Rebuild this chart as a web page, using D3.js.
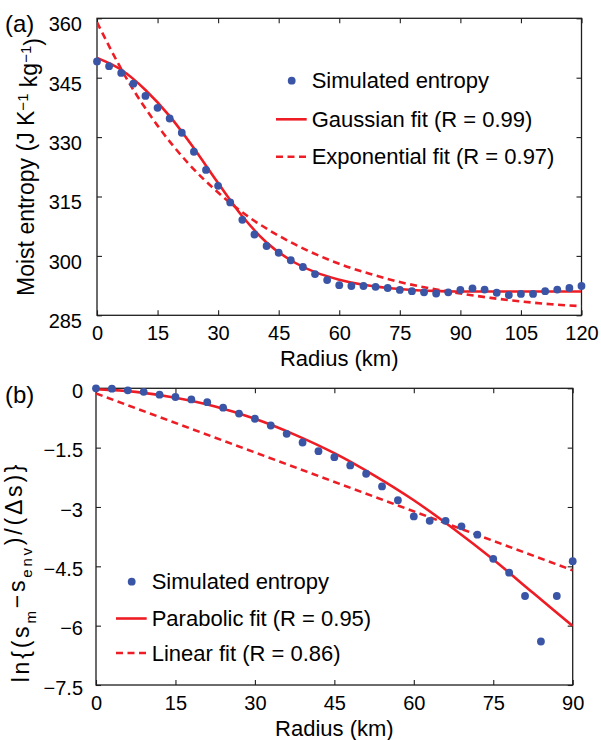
<!DOCTYPE html>
<html><head><meta charset="utf-8">
<script src="https://cdn.jsdelivr.net/npm/d3@7"></script>
<style>
body{margin:0;background:#fff}
svg text{font-family:"Liberation Sans",Arial,Helvetica,sans-serif;fill:#000}
</style></head><body>
<svg id="c" width="601" height="740"></svg>
<script>
// ---------- Panel (a) data ----------
const radiusA=[0,3,6,9,12,15,18,21,24,27,30,33,36,39,42,45,48,51,54,57,60,63,66,69,72,75,78,81,84,87,90,93,96,99,102,105,108,111,114,117,120];
const entropyA=[349.1,347.9,346.2,343.5,340.4,337.4,334.7,331.1,326.3,321.7,317.7,313.5,309.1,305.4,302.5,300.8,298.9,297.2,295.4,293.9,292.6,292.4,292.4,292.2,291.9,291.4,291.1,290.8,290.5,290.8,291.4,291.8,291.5,290.7,290.1,290.4,290.4,291.1,291.5,291.9,292.4];
const gaussRadiusA=[0,6,12,18,24,30,36,42,48,54,60,66,72,78,84,90,96,102,108,114,120];
const gaussianA=[350.0,347.0,341.9,335.3,327.2,318.4,310.0,303.4,298.9,295.9,294.0,292.7,291.9,291.4,291.15,291.0,291.0,291.0,291.0,291.0,291.0];
const expRadiusA=[0,7.5,15,22.5,30,37.5,45,52.5,60,67.5,75,82.5,90,97.5,105,112.5,120];
const exponentialA=[359.0,344.5,332.9,323.5,316.0,309.9,305.1,301.2,298.0,295.5,293.4,291.8,290.5,289.4,288.5,287.8,287.3];
const xTicksA=[0,15,30,45,60,75,90,105,120];
const yTicksA=[285,300,315,330,345,360];
const legendA=["Simulated entropy","Gaussian fit (R = 0.99)","Exponential fit (R = 0.97)"];

// ---------- Panel (b) data ----------
const radiusB=[0,3,6,9,12,15,18,21,24,27,30,33,36,39,42,45,48,51,54,57,60,63,66,69,72,75,78,81,84,87,90];
const lnB=[0,-0.01,-0.05,-0.09,-0.16,-0.22,-0.28,-0.35,-0.49,-0.64,-0.77,-0.94,-1.15,-1.37,-1.59,-1.74,-1.95,-2.16,-2.48,-2.83,-3.24,-3.35,-3.35,-3.49,-3.70,-4.31,-4.66,-5.25,-6.40,-5.25,-4.37];
const fitRadiusB=[0,7.5,15,22.5,30,37.5,45,52.5,60,67.5,75,82.5,90];
const parabolicB=[-0.02,-0.09,-0.24,-0.46,-0.77,-1.17,-1.64,-2.20,-2.83,-3.55,-4.33,-5.17,-6.01];
const linearRadiusB=[0,90];
const linearB=[-0.13,-4.60];
const xTicksB=[0,15,30,45,60,75,90];
const yTicksB=[0,-1.5,-3,-4.5,-6,-7.5];
const legendB=["Simulated entropy","Parabolic fit (R = 0.95)","Linear fit (R = 0.86)"];

const BLUE="#3a55a6", RED="#ee1d25", AX="#1e1e1e";
const svg=d3.select("#c");
const fmt=d=>(d<0?"\u2212":"")+Math.abs(d);

function panel(o){
  const x=d3.scaleLinear().domain(o.xd).range([o.l,o.r]);
  const y=d3.scaleLinear().domain(o.yd).range([o.b,o.t]);
  const g=svg.append("g");
  const cid="clip"+o.id;
  g.append("clipPath").attr("id",cid).append("rect")
    .attr("x",o.l).attr("y",o.t).attr("width",o.r-o.l).attr("height",o.b-o.t);
  const styleAxis=(sel)=>{sel.select(".domain").remove();sel.selectAll("line").attr("stroke",AX).attr("stroke-width",1.1);};
  g.append("g").attr("transform",`translate(0,${o.b})`)
    .call(d3.axisBottom(x).tickValues(o.xt).tickSizeInner(-5).tickSizeOuter(0).tickPadding(10.3).tickFormat(fmt))
    .call(styleAxis).selectAll("text").attr("font-size",20).attr("fill","#000");
  g.append("g").attr("transform",`translate(0,${o.t})`)
    .call(d3.axisTop(x).tickValues(o.xt).tickSizeInner(-5).tickSizeOuter(0).tickFormat(""))
    .call(styleAxis);
  g.append("g").attr("transform",`translate(${o.l},0)`)
    .call(d3.axisLeft(y).tickValues(o.yt).tickSizeInner(-5).tickSizeOuter(0).tickPadding(o.ypad).tickFormat(fmt))
    .call(styleAxis).selectAll("text").attr("font-size",20).attr("dy",o.ydy).attr("fill","#000");
  g.append("g").attr("transform",`translate(${o.r},0)`)
    .call(d3.axisRight(y).tickValues(o.yt).tickSizeInner(-5).tickSizeOuter(0).tickFormat(""))
    .call(styleAxis);
  g.selectAll(".tick text").style("font-family",'"Liberation Sans",Arial,sans-serif');
  g.append("rect").attr("x",o.l).attr("y",o.t).attr("width",o.r-o.l).attr("height",o.b-o.t)
    .attr("fill","none").attr("stroke",AX).attr("stroke-width",1.3);
  const plot=g.append("g").attr("clip-path",`url(#${cid})`);
  o.lines.forEach(L=>{
    const line=d3.line().x((d,i)=>x(L.xs[i])).y(d=>y(d)).curve(d3.curveMonotoneX);
    plot.append("path").attr("d",line(L.ys)).attr("fill","none").attr("stroke",RED)
      .attr("stroke-width",2.6).attr("stroke-dasharray",L.dash?"7,4.5":null);
  });
  g.append("g").selectAll("circle").data(o.ys).join("circle")
    .attr("cx",(d,i)=>x(o.xs[i])).attr("cy",d=>y(d)).attr("r",3.9).attr("fill",BLUE);
  g.append("text").attr("x",(o.l+o.r)/2).attr("y",o.b+51).attr("text-anchor","middle")
    .attr("font-size",22).text("Radius (km)");
  g.append("text").attr("x",5).attr("y",o.tagY).attr("font-size",24).text(o.tag);
  const lg=g.append("g");
  o.legend.forEach((t,i)=>{
    const yy=o.legY[i];
    if(i===0) lg.append("circle").attr("cx",o.legX-20).attr("cy",yy).attr("r",3.9).attr("fill",BLUE);
    else lg.append("line").attr("x1",o.legX-35.7).attr("x2",o.legX-5).attr("y1",yy).attr("y2",yy)
      .attr("stroke",RED).attr("stroke-width",2.6).attr("stroke-dasharray",i===2?"7,4.5":null);
    lg.append("text").attr("x",o.legX).attr("y",yy).attr("dy","0.35em").attr("font-size",22).text(t);
  });
  return g;
}

panel({id:"a",xd:[0,120],yd:[285,360],l:97,r:581.5,t:18.3,b:315.3,xt:xTicksA,yt:yTicksA,ypad:15,ydy:"0.62em",
  xs:radiusA,ys:entropyA,
  lines:[{xs:gaussRadiusA,ys:gaussianA,dash:false},{xs:expRadiusA,ys:exponentialA,dash:true}],
  tag:"(a)",tagY:32,legend:legendA,legX:311.7,legY:[80.7,119.3,156.7]});
panel({id:"b",xd:[0,90],yd:[-7.5,0],l:96,r:572.7,t:388.3,b:685,xt:xTicksB,yt:yTicksB,ypad:13,ydy:"0.46em",
  xs:radiusB,ys:lnB,
  lines:[{xs:fitRadiusB,ys:parabolicB,dash:false},{xs:linearRadiusB,ys:linearB,dash:true}],
  tag:"(b)",tagY:403,legend:legendB,legX:151.7,legY:[581.7,618.5,653]});

// y-axis labels
const la=svg.append("text").attr("transform","translate(34,167) rotate(-90)")
  .attr("text-anchor","middle").attr("font-size",23);
la.append("tspan").text("Moist entropy (J K");
la.append("tspan").attr("dy","-0.42em").attr("font-size",15).text("\u22121");
la.append("tspan").attr("dy","0.42em").text(" kg");
la.append("tspan").attr("dy","-0.42em").attr("font-size",15).text("\u22121");
la.append("tspan").attr("dy","0.42em").text(")");

const lb=svg.append("text").attr("transform","translate(29,572) rotate(-90)")
  .attr("text-anchor","middle").attr("font-size",23).attr("letter-spacing","2.8px");
lb.append("tspan").text("ln{(s");
lb.append("tspan").attr("dy","0.45em").attr("font-size",15).text("m");
lb.append("tspan").attr("dy","-0.45em").text("\u2212s");
lb.append("tspan").attr("dy","0.45em").attr("font-size",15).text("env");
lb.append("tspan").attr("dy","-0.45em").text(")/(\u0394s)}");
</script></body></html>
